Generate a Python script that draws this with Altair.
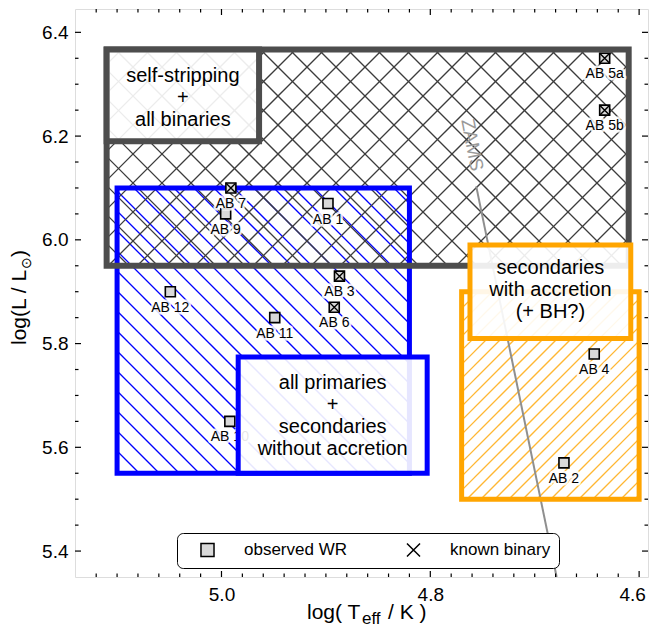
import math
import altair as alt
import pandas as pd

FONT = "Liberation Sans"

# ---------------- axes ----------------
X_MIN, X_MAX = 4.5915, 5.1403      # log Teff (drawn hot -> cool, left -> right)
Y_MIN, Y_MAX = 5.35, 6.445         # log L
W, H = 573, 568
x_major = [4.6, 4.8, 5.0]
y_major = [5.4, 5.6, 5.8, 6.0, 6.2, 6.4]
x_minor = [round(4.60 + 0.02 * i, 2) for i in range(1, 27) if i % 10]
y_minor = [round(5.40 + 0.05 * i, 2) for i in range(1, 21) if i % 4]

# ---------------- observed WR stars ----------------
star_name = ["AB 1", "AB 2", "AB 3", "AB 4", "AB 5a", "AB 5b", "AB 6",
             "AB 7", "AB 9", "AB 10", "AB 11", "AB 12"]
star_logT = [4.898, 4.672, 4.887, 4.643, 4.633, 4.633, 4.892,
             4.991, 4.996, 4.992, 4.949, 5.049]
star_logL = [6.07, 5.57, 5.93, 5.78, 6.35, 6.25, 5.87,
             6.10, 6.05, 5.65, 5.85, 5.90]
star_binary = [False, False, True, False, True, True, True,
               True, False, False, False, False]

# ---------------- hatched regions ----------------
region_key = ["primaries", "selfstrip", "accretion"]
region_T0 = [5.10, 5.11, 4.77]
region_T1 = [4.82, 4.61, 4.60]
region_L0 = [5.55, 5.95, 5.50]
region_L1 = [6.10, 6.367, 5.90]

# ---------------- label boxes ----------------
box_key = ["selfstrip", "primaries", "accretion"]
box_text = ["self-stripping\n+\nall binaries",
            "all primaries\n+\nsecondaries\nwithout accretion",
            "secondaries\nwith accretion\n(+ BH?)"]
box_T0 = [5.11, 4.984, 4.762]
box_T1 = [4.964, 4.803, 4.608]
box_L0 = [6.19, 5.55, 5.81]
box_L1 = [6.367, 5.774, 5.99]

# ---------------- ZAMS ----------------
zams_logT = [4.756, 4.679]
zams_logL = [6.103, 5.35]
zams_label_T, zams_label_L = 4.760, 6.183

legend_labels = ["observed WR", "known binary"]

# ---------------- styles ----------------
STYLE = {
    "primaries": dict(color="#0000ff", edge=5, hatch_color="#0000ff", hatch_w=1.3, hatch_op=1.0,
                      step=20, dirs=["\\"], nudge=1),
    "selfstrip": dict(color="#4d4d4d", edge=6, hatch_color="#3c3c3c", hatch_w=1.3, hatch_op=1.0,
                      step=29, dirs=["\\", "/"], nudge=3),
    "accretion": dict(color="#ffa500", edge=5, hatch_color="#ffa500", hatch_w=1.4, hatch_op=0.8,
                      step=14, dirs=["/"], nudge=-2),
}
XPATH = "M-1,-1L1,1M1,-1L-1,1"
LINE_H = 22

KX = W / (X_MAX - X_MIN)
KY = H / (Y_MAX - Y_MIN)


def to_px(T, L):
    return (X_MAX - T) * KX, (Y_MAX - L) * KY


def to_data(px, py):
    return X_MAX - px / KX, Y_MAX - py / KY


def hatch(t0, t1, l0, l1, step, d):
    xa, ya = to_px(max(t0, t1), max(l0, l1))
    xb, yb = to_px(min(t0, t1), min(l0, l1))
    rows = []
    if d == "\\":
        for k in range(math.ceil((xa - yb) / step), math.floor((xb - ya) / step) + 1):
            c = k * step
            p0, p1 = max(xa, ya + c), min(xb, yb + c)
            if p1 - p0 > 0.5:
                rows.append((p0, p0 - c, p1, p1 - c))
    else:
        for k in range(math.ceil((xa + ya) / step), math.floor((xb + yb) / step) + 1):
            c = k * step
            p0, p1 = max(xa, c - yb), min(xb, c - ya)
            if p1 - p0 > 0.5:
                rows.append((p0, c - p0, p1, c - p1))
    out = []
    for (a, b, e, f) in rows:
        T1, L1 = to_data(a, b)
        T2, L2 = to_data(e, f)
        out.append(dict(T=T1, L=L1, T2=T2, L2=L2))
    return pd.DataFrame(out)


xs = alt.Scale(domain=[X_MIN, X_MAX], reverse=True, nice=False, zero=False)
ys = alt.Scale(domain=[Y_MIN, Y_MAX], nice=False, zero=False)
xax = alt.Axis(values=x_major, format=".1f", ticks=False, tickSize=0, domain=False, grid=False,
               labelFontSize=19, labelFont=FONT, labelColor="black", labelPadding=8,
               labelFlush=False, title=None,
               labelOffset={"condition": {"test": "datum.value < 4.7", "value": -7}, "value": 0})
yax = alt.Axis(values=y_major, format=".1f", ticks=False, tickSize=0, domain=False, grid=False,
               labelFontSize=19, labelFont=FONT, labelColor="black", labelPadding=7,
               labelFlush=False, title=None)


def X(f):
    return alt.X(f, type="quantitative", scale=xs, axis=xax)


def Y(f):
    return alt.Y(f, type="quantitative", scale=ys, axis=yax)


regions = pd.DataFrame(dict(key=region_key, T0=region_T0, T1=region_T1, L0=region_L0, L1=region_L1))
boxes = pd.DataFrame(dict(key=box_key, text=box_text, T0=box_T0, T1=box_T1, L0=box_L0, L1=box_L1))
boxes["Tc"] = (boxes["T0"] + boxes["T1"]) / 2
boxes["Lc"] = (boxes["L0"] + boxes["L1"]) / 2
stars = pd.DataFrame(dict(name=star_name, T=star_logT, L=star_logL, binary=star_binary))
stars["kind"] = legend_labels[0]
binaries = stars[stars["binary"]].copy()
binaries["kind"] = legend_labels[1]

layers = []

# hatching
for key in ["primaries", "selfstrip", "accretion"]:
    r = regions[regions["key"] == key].iloc[0]
    st = STYLE[key]
    for d in st["dirs"]:
        df = hatch(r.T0, r.T1, r.L0, r.L1, st["step"], d)
        df["region"] = key
        layers.append(alt.Chart(df).mark_rule(color=st["hatch_color"], stroke=st["hatch_color"],
                                              strokeOpacity=st["hatch_op"],
                                              strokeWidth=st["hatch_w"]).encode(
            x=X("T"), y=Y("L"), x2="T2", y2="L2"))

# ZAMS line
layers.append(alt.Chart(pd.DataFrame(dict(T=zams_logT, L=zams_logL))).mark_line(
    color="#8f8f8f", strokeWidth=2).encode(x=X("T"), y=Y("L")))

# region borders
for key in ["primaries", "accretion", "selfstrip"]:
    st = STYLE[key]
    layers.append(alt.Chart(regions[regions["key"] == key]).mark_rect(
        fill=None, fillOpacity=0, stroke=st["color"], strokeWidth=st["edge"]).encode(
        x=X("T0"), x2="T1", y=Y("L0"), y2="L1"))

shape_scale = alt.Scale(domain=legend_labels, range=["square", XPATH])
leg = alt.Legend(orient="none", legendX=102, legendY=524, direction="horizontal", title=None,
                 labelFontSize=17, labelFont=FONT, labelColor="black", symbolSize=170,
                 symbolStrokeWidth=1.5,
                 fillColor="white", strokeColor="black", cornerRadius=6, padding=8,
                 columnPadding=44, labelOffset=28, symbolOffset=14)

# markers
layers.append(alt.Chart(stars).mark_point(filled=True, fill="#d9d9d9", stroke="black", strokeWidth=1.6,
                                          size=100, opacity=1).encode(
    x=X("T"), y=Y("L"), shape=alt.Shape("kind:N", scale=shape_scale, legend=leg)))
layers.append(alt.Chart(binaries).mark_point(filled=True, fill="#d9d9d9", stroke="black", strokeWidth=1.4,
                                             size=100, opacity=1).encode(
    x=X("T"), y=Y("L"), shape=alt.Shape("kind:N", scale=shape_scale, legend=leg)))

# marker labels with white halo
layers.append(alt.Chart(stars).mark_text(font=FONT, fontSize=14, dy=16, fill="white", stroke="white",
                                         strokeWidth=5, strokeJoin="round", opacity=0.85).encode(
    x=X("T"), y=Y("L"), text="name"))
layers.append(alt.Chart(stars).mark_text(font=FONT, fontSize=14, dy=16, color="black").encode(
    x=X("T"), y=Y("L"), text="name"))

# label boxes
for key in box_key:
    st = STYLE[key]
    sub = boxes[boxes["key"] == key]
    n_lines = sub["text"].iloc[0].count("\n") + 1
    layers.append(alt.Chart(sub).mark_rect(fill="white", fillOpacity=0.9, stroke=st["color"],
                                           strokeWidth=st["edge"]).encode(
        x=X("T0"), x2="T1", y=Y("L0"), y2="L1"))
    layers.append(alt.Chart(sub).mark_text(font=FONT, fontSize=20, lineHeight=LINE_H, lineBreak="\n",
                                           color="black", baseline="middle", align="center",
                                           dy=-(n_lines - 1) * LINE_H / 2 + st["nudge"]).encode(
        x=X("Tc"), y=Y("Lc"), text="text"))

# ZAMS label
layers.append(alt.Chart(pd.DataFrame(dict(T=[zams_label_T], L=[zams_label_L], t=["ZAMS"]))).mark_text(
    font=FONT, fontSize=19, color="#9a9a9a", angle=79, baseline="middle", align="center").encode(
    x=X("T"), y=Y("L"), text="t"))

# inward ticks on all four sides
for vals, ln in [(x_major, 6), (x_minor, 3.5)]:
    d = pd.DataFrame(dict(v=vals))
    layers.append(alt.Chart(d).mark_rule(color="black", strokeWidth=1.2).encode(
        x=X("v"), y=alt.value(H), y2=alt.value(H - ln)))
    layers.append(alt.Chart(d).mark_rule(color="black", strokeWidth=1.2).encode(
        x=X("v"), y=alt.value(0), y2=alt.value(ln)))
for vals, ln in [(y_major, 6), (y_minor, 3.5)]:
    d = pd.DataFrame(dict(v=vals))
    layers.append(alt.Chart(d).mark_rule(color="black", strokeWidth=1.2).encode(
        y=Y("v"), x=alt.value(0), x2=alt.value(ln)))
    layers.append(alt.Chart(d).mark_rule(color="black", strokeWidth=1.2).encode(
        y=Y("v"), x=alt.value(W), x2=alt.value(W - ln)))


# axis titles (with sub-scripts)
def title_piece(txt, x, y, size, angle=0):
    return alt.Chart(pd.DataFrame(dict(t=[txt]))).mark_text(
        font=FONT, fontSize=size, color="black", align="left", baseline="alphabetic", angle=angle).encode(
        x=alt.value(x), y=alt.value(y), text="t")


layers.append(title_piece("log( T", 232, 610, 21))
layers.append(title_piece("eff", 287, 615, 17))
layers.append(title_piece("/ K )", 313, 610, 21))
layers.append(title_piece("log(L / L", -49, 336, 21, angle=270))
layers.append(title_piece("\u2299", -44, 260, 14, angle=270))
layers.append(title_piece(")", -49, 248, 21, angle=270))

chart = alt.layer(*layers).properties(
    width=W, height=H,
    autosize=alt.AutoSizeParams(type="none"),
    padding={"left": 67, "top": 1, "right": 1, "bottom": 52},
).configure_view(stroke="black", strokeWidth=2).configure(font=FONT)

chart.save("out.html", embed_options={"renderer": "svg", "actions": False})
